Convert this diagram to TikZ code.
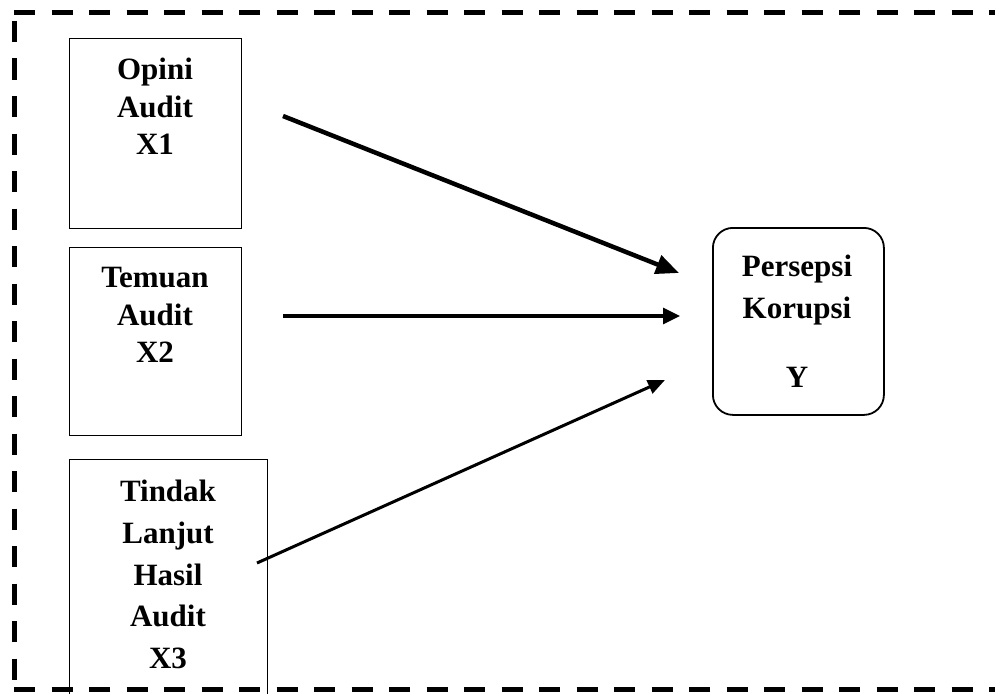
\documentclass[tikz,border=0pt]{standalone}
\usepackage{fontspec}
\setmainfont{Liberation Serif}
\usetikzlibrary{arrows.meta}

\begin{document}
\begin{tikzpicture}[x=1pt,y=-1pt,
  varbox/.style={draw,line width=1.3pt,inner sep=0pt,anchor=north west},
  varlabel/.style={inner sep=0pt,anchor=north,align=center,
    font=\fontsize{31}{37.5}\selectfont\bfseries},
  frame/.style={line width=5pt,dash pattern=on 21pt off 16.5pt}]
  \useasboundingbox (0,0) rectangle (995,693);
  \clip (0,0) rectangle (995,693);

  % dashed frame
  \draw[frame] (14,13) -- (1000,13);
  \draw[frame] (14,21) -- (14,689);
  \draw[frame] (14,689) -- (1000,689);

  % independent variables
  \node[varbox,minimum width=172pt,minimum height=190pt] (x1) at (69,38) {};
  \node[varlabel] (x1text) at (155,58) {Opini\\Audit\\X1};
  \node[varbox,minimum width=172pt,minimum height=188pt] (x2) at (69,247) {};
  \node[varlabel] (x2text) at (155,267) {Temuan\\Audit\\X2};
  \node[varbox,minimum width=198pt,minimum height=260pt] (x3) at (69,459) {};
  \node[varlabel,font=\fontsize{31}{41.75}\selectfont\bfseries] (x3text) at (168,480)
    {Tindak\\Lanjut\\Hasil\\Audit\\X3};

  % dependent variable
  \node[varbox,line width=1.8pt,rounded corners=20pt,minimum width=171pt,minimum height=187pt] (y) at (712,227) {};
  \node[varlabel,font=\fontsize{31}{42}\selectfont\bfseries] (ytext) at (797,255)
    {Persepsi\\Korupsi\\[27pt]Y};

  % arrows
  \coordinate (a1) at (283,116);
  \coordinate (b1) at (679,273);
  \coordinate (a2) at (283,316);
  \coordinate (b2) at (680,316);
  \coordinate (a3) at (257,563);
  \coordinate (b3) at (665,380);
  \draw[line width=4.5pt,-{Triangle[length=23pt,width=19pt]}] (a1) -- (b1);
  \draw[line width=3.3pt,-{Triangle[length=17pt,width=16pt]}] (a2) -- (b2);
  \draw[line width=3pt,-{Triangle[length=17pt,width=14pt]}] (a3) -- (b3);
\end{tikzpicture}
\end{document}
